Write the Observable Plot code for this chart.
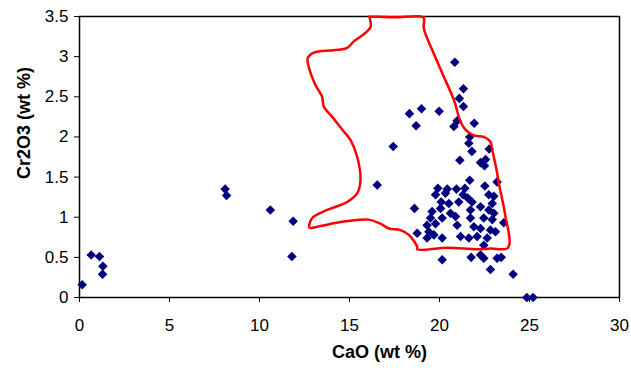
<!DOCTYPE html>
<html>
<head>
<meta charset="utf-8">
<script src="https://cdn.jsdelivr.net/npm/d3@7"></script>
<script src="https://cdn.jsdelivr.net/npm/@observablehq/plot@0.6"></script>
<style>
  html, body { margin: 0; padding: 0; background: #fff; }
  #chart svg { display: block; }
</style>
</head>
<body>
<div id="chart"></div>
<script>
// Sample analyses: CaO (wt %) vs Cr2O3 (wt %)
const cao = [
  0.15, 0.65, 1.11, 1.3, 1.28,
  8.09, 8.17, 10.6, 11.87, 11.8,
  16.54, 17.43,
  20.85, 21.33, 21.1, 21.33, 18.33, 19.0, 19.98, 18.7, 20.8, 21.93, 20.98,
  21.68, 21.63, 21.8, 21.13, 22.28, 22.56, 22.76, 22.5,
  21.68, 22.52, 23.2, 19.91, 20.43, 20.94, 21.41, 19.78, 20.33, 21.31,
  21.57, 22.74, 23.02, 20.09, 20.52, 21.07, 21.81, 22.28, 22.93, 18.61,
  19.59, 20.06, 20.61, 21.72, 22.74, 23.02, 19.5, 20.15, 20.89, 21.72,
  22.46, 22.93, 23.57, 19.31, 19.78, 20.98, 21.91, 22.28, 22.83, 23.11,
  18.76, 19.41, 19.69, 20.15, 21.17, 21.63, 22.09, 22.65, 19.31, 22.46,
  20.15, 21.76, 22.28, 22.46, 23.2, 23.43, 22.83, 24.09,
  24.85, 25.2
];
const cr2o3 = [
  0.16, 0.53, 0.51, 0.39, 0.29,
  1.35, 1.27, 1.09, 0.95, 0.51,
  1.40, 1.88,
  2.93, 2.60, 2.48, 2.38, 2.29, 2.35, 2.32, 2.14, 2.13, 2.17, 2.20,
  2.00, 1.92, 1.82, 1.71, 1.68, 1.72, 1.85, 1.64,
  1.46, 1.39, 1.44, 1.36, 1.35, 1.35, 1.36, 1.28, 1.30, 1.28,
  1.24, 1.28, 1.26, 1.19, 1.17, 1.19, 1.19, 1.13, 1.17, 1.11,
  1.07, 1.11, 1.05, 1.09, 1.09, 1.05, 0.99, 0.99, 1.01, 0.99,
  0.99, 0.97, 0.93, 0.90, 0.92, 0.90, 0.88, 0.86, 0.84, 0.82,
  0.80, 0.82, 0.78, 0.74, 0.76, 0.74, 0.76, 0.74, 0.74, 0.65,
  0.47, 0.50, 0.53, 0.49, 0.49, 0.50, 0.35, 0.29,
  0.00, 0.00
];

// Red field outline (CaO, Cr2O3)
const fieldCaO = [
  16.1, 16.17, 15.8, 15.24, 14.87, 14.13, 13.02, 12.68, 12.74, 13.1,
  13.48, 13.57, 14.04, 14.46, 14.6, 15.06, 15.43, 15.61, 15.43, 14.87,
  13.76, 12.93, 12.78, 13.39, 14.5, 16.07, 16.72, 17.18, 17.83, 18.3,
  18.76, 18.76, 20.43, 22.1, 22.83, 23.76, 23.89, 23.85, 23.67, 23.57,
  23.3, 23.17, 22.93, 22.83, 22.46, 21.9, 21.44, 21.17, 20.8, 20.24,
  19.87, 19.68, 19.13, 19.13, 18.94, 17.5, 16.1
];
const fieldCr = [
  3.5, 3.37, 3.28, 3.19, 3.11, 3.08, 3.05, 2.98, 2.87, 2.65,
  2.5, 2.38, 2.25, 2.13, 2.09, 1.96, 1.75, 1.46, 1.30, 1.19,
  1.09, 0.99, 0.87, 0.89, 0.94, 0.97, 0.92, 0.86, 0.84, 0.78,
  0.63, 0.60, 0.62, 0.60, 0.61, 0.61, 0.67, 0.80, 1.0, 1.13,
  1.42, 1.59, 1.84, 1.94, 2.0, 2.02, 2.09, 2.19, 2.46, 2.75,
  2.94, 3.04, 3.35, 3.48, 3.5, 3.49, 3.5
];

const xTicks = [0, 5, 10, 15, 20, 25, 30];
const yTicks = [0, 0.5, 1, 1.5, 2, 2.5, 3, 3.5];
const xTitle = "CaO (wt %)";
const yTitle = "Cr2O3 (wt %)";

const points = cao.map((v, i) => ({x: v, y: cr2o3[i]}));
const field = fieldCaO.map((v, i) => ({x: v, y: fieldCr[i]}));

const chart = Plot.plot({
  width: 631,
  height: 373,
  marginLeft: 79,
  marginRight: 12,
  marginTop: 16,
  marginBottom: 76,
  style: {fontFamily: "'Liberation Sans', Arial, sans-serif", fontSize: "17px", color: "#000", background: "#fff"},
  x: {domain: [0, 30], ticks: xTicks, tickFormat: d => String(d), tickSize: 5, tickPadding: 16, label: null},
  y: {domain: [0, 3.5], ticks: yTicks, tickFormat: d => String(d), tickSize: 5, tickPadding: 6, label: null},
  marks: [
    Plot.frame({stroke: "#000", strokeWidth: 1.5}),
    Plot.dot(points, {x: "x", y: "y", symbol: "diamond2", r: 4.3, fill: "#000080", stroke: "none"}),
    Plot.line(field, {x: "x", y: "y", stroke: "#ff0000", strokeWidth: 2.5, curve: "catmull-rom"}),
    Plot.text([xTitle], {frameAnchor: "bottom", text: d => d, textAnchor: "middle", lineAnchor: "middle", dy: 55, dx: 30, fontWeight: "bold", fontSize: 18}),
    Plot.text([yTitle], {frameAnchor: "left", text: d => d, textAnchor: "middle", lineAnchor: "middle", rotate: -90, dx: -55, dy: -34, fontWeight: "bold", fontSize: 18})
  ]
});
document.getElementById("chart").appendChild(chart);
</script>
</body>
</html>
